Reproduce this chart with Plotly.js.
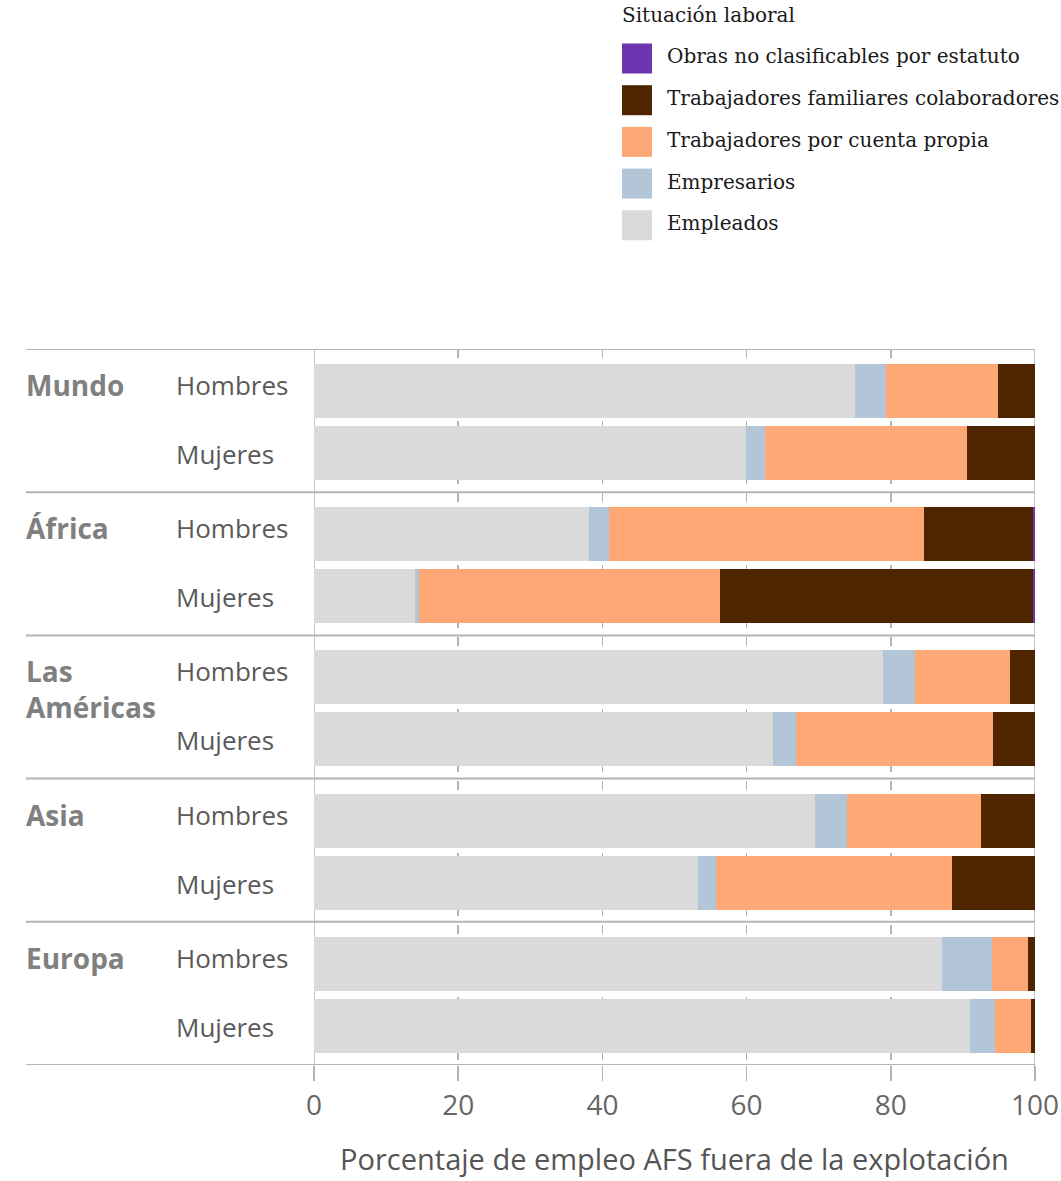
<!DOCTYPE html>
<html>
<head>
<meta charset="utf-8">
<script src="https://cdn.plot.ly/plotly-3.0.1.min.js"></script>
<style>html,body{margin:0;padding:0;background:#fff;}#chart{width:1061px;height:1181px;}</style>
</head>
<body>
<div id="chart"></div>
<script>
// ---- data ----
const regions = ['Mundo', 'África', 'Las<br>Américas', 'Asia', 'Europa'];
const sexes = ['Hombres', 'Mujeres'];
// order: Mundo H, Mundo M, África H, África M, Américas H, Américas M, Asia H, Asia M, Europa H, Europa M
const empleados   = [75.0, 59.9, 38.2, 14.0, 78.9, 63.6, 69.5, 53.3, 87.1, 91.0];
const empresarios = [4.3, 2.7, 2.7, 0.6, 4.5, 3.2, 4.4, 2.4, 6.9, 3.5];
const propia      = [15.5, 27.9, 43.7, 41.7, 13.2, 27.4, 18.6, 32.8, 5.0, 4.9];
const familiares  = [5.2, 9.5, 15.1, 43.4, 3.4, 5.8, 7.5, 11.5, 1.0, 0.6];
const obras       = [0, 0, 0.3, 0.3, 0, 0, 0, 0, 0, 0];
const seriesNames = ['Empleados', 'Empresarios', 'Trabajadores por cuenta propia', 'Trabajadores familiares colaboradores', 'Obras no clasificables por estatuto'];
const seriesColors = ['#dadada', '#b3c6d8', '#fda875', '#4f2500', '#6d35b0'];
const xTicks = [0, 20, 40, 60, 80, 100];
const legendTitle = 'Situación laboral';
const xTitle = 'Porcentaje de empleo AFS fuera de la explotación';

// ---- layout constants ----
const W = 1061, H = 1181;
const L = 314, R = 26, T = 349, B = 116;
const plotW = W - L - R, plotH = H - T - B;
const groupSpan = 10;
const offH = 2.93, offM = 7.26, barW = 3.77;
const px2x = px => (px - L) / plotW;
const py2y = py => (H - B - py) / plotH;

const yPos = [];
regions.forEach((r, g) => { yPos.push(g * groupSpan + offH); yPos.push(g * groupSpan + offM); });

const allSeries = [empleados, empresarios, propia, familiares, obras];
const traces = allSeries.map((vals, i) => ({
  type: 'bar', orientation: 'h',
  x: vals, y: yPos, width: barW,
  name: seriesNames[i],
  marker: {color: seriesColors[i], line: {width: 0}},
  hoverinfo: 'x+name'
}));

const shapes = [];
const annotations = [];
// group separators
for (let g = 0; g <= regions.length; g++) {
  shapes.push({type: 'line', xref: 'paper', yref: 'y', x0: px2x(26), x1: 1, y0: g * groupSpan, y1: g * groupSpan,
    line: {color: '#b4b4b4', width: 2}, layer: 'above'});
}
// solid lines at 0 and 100
[0, 100].forEach(v => shapes.push({type: 'line', xref: 'x', yref: 'paper', x0: v, x1: v, y0: -15 / plotH, y1: 1,
  line: {color: '#b4b4b4', width: 1.5}, layer: 'below'}));

// region & sex labels
regions.forEach((r, g) => {
  annotations.push({xref: 'paper', yref: 'y', x: px2x(24), y: g * groupSpan + offH, xanchor: 'left', yanchor: 'middle',
    text: '<b>' + r + '</b>', showarrow: false, align: 'left',
    yshift: r.indexOf('<br>') >= 0 ? -12 : 6,
    font: {family: 'Open Sans', size: 28, color: '#808080'}});
  sexes.forEach((s, k) => {
    annotations.push({xref: 'paper', yref: 'y', x: px2x(174), y: g * groupSpan + (k === 0 ? offH : offM), xanchor: 'left', yanchor: 'middle',
      text: s, showarrow: false, yshift: k === 0 ? 6 : -1,
      font: {family: 'Open Sans', size: 26, color: '#5a5a5a'}});
  });
});

// manual legend (top entry = last series)
annotations.push({xref: 'paper', yref: 'paper', x: px2x(620), y: py2y(15), xanchor: 'left', yanchor: 'middle',
  text: legendTitle, showarrow: false, font: {family: 'DejaVu Serif', size: 20, color: '#1a1a1a'}});
const legendOrder = [4, 3, 2, 1, 0];
legendOrder.forEach((si, row) => {
  const top = 43.5 + row * 41.7;
  shapes.push({type: 'rect', xref: 'paper', yref: 'paper', x0: px2x(622), x1: px2x(652), y0: py2y(top + 30), y1: py2y(top),
    fillcolor: seriesColors[si], line: {width: 0}});
  annotations.push({xref: 'paper', yref: 'paper', x: px2x(665), y: py2y(top + 13), xanchor: 'left', yanchor: 'middle',
    text: seriesNames[si], showarrow: false, font: {family: 'DejaVu Serif', size: 20, color: '#1a1a1a'}});
});

const layout = {
  width: W, height: H,
  margin: {l: L, r: R, t: T, b: B, pad: 0},
  paper_bgcolor: '#fff', plot_bgcolor: '#fff',
  barmode: 'stack', showlegend: false,
  xaxis: {
    range: [0, 100], tickvals: xTicks, ticktext: xTicks.map(String),
    showgrid: true, gridcolor: '#b4b4b4', griddash: 'dash', gridwidth: 1.5,
    zeroline: false, showline: false,
    ticks: 'outside', ticklen: 15, tickcolor: '#b4b4b4', tickwidth: 1.5,
    tickfont: {family: 'Open Sans', size: 28, color: '#666'},
    title: {text: xTitle, font: {family: 'Open Sans', size: 29, color: '#555'}, standoff: 28},
    fixedrange: true
  },
  yaxis: {
    range: [regions.length * groupSpan, 0], showgrid: false, zeroline: false, showline: false,
    showticklabels: false, ticks: '', fixedrange: true
  },
  shapes: shapes,
  annotations: annotations
};

Plotly.newPlot('chart', traces, layout, {displayModeBar: false, staticPlot: true});
</script>
</body>
</html>
